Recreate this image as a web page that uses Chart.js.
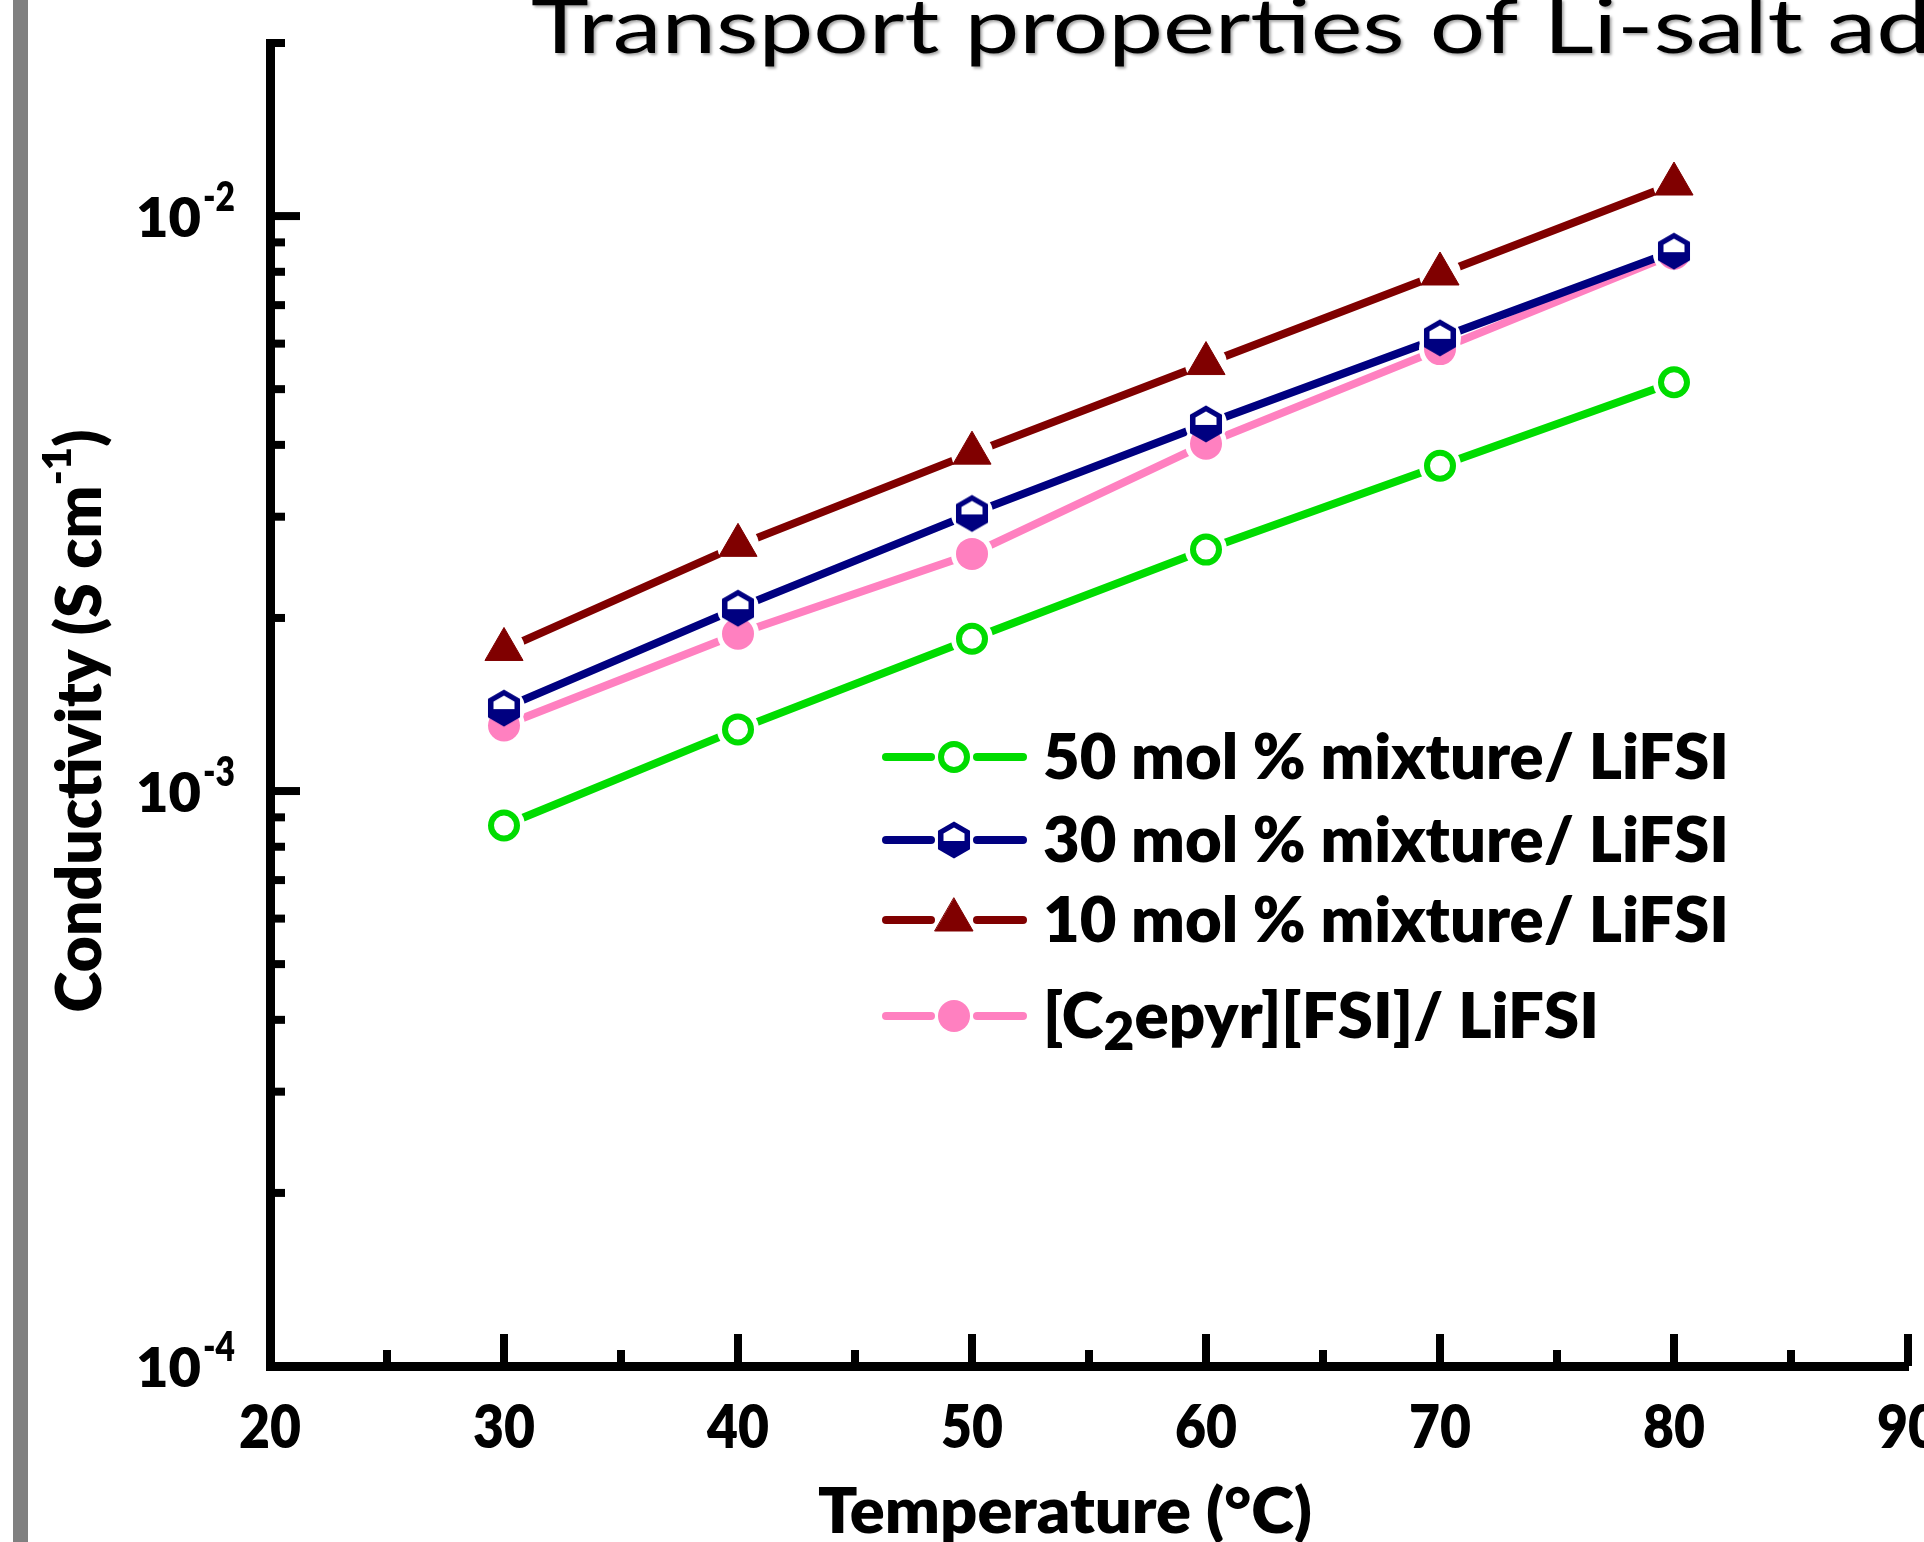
<!DOCTYPE html>
<html>
<head>
<meta charset="utf-8">
<script src="https://cdn.jsdelivr.net/npm/chart.js@4.4.1/dist/chart.umd.min.js"></script>
<style>
  html, body { margin: 0; padding: 0; background: #fff; overflow: hidden; }
  #wrap { position: relative; width: 1924px; height: 1542px; }
  #bar { position: absolute; left: 13px; top: 0; width: 15px; height: 1542px; background: #808080; }
  #chart { position: absolute; left: 0; top: 0; }
</style>
</head>
<body>
<div id="wrap">
  <div id="bar"></div>
  <canvas id="chart" width="1924" height="1542"></canvas>
</div>
<script>
// temperature (°C)
const temps = [30, 40, 50, 60, 70, 80];
// conductivity (S cm-1)
const mix50 = [8.71e-4, 1.28e-3, 1.84e-3, 2.63e-3, 3.68e-3, 5.14e-3];
const mix30 = [1.394e-3, 2.08e-3, 3.04e-3, 4.35e-3, 6.14e-3, 8.69e-3];
const mix10 = [1.763e-3, 2.675e-3, 3.87e-3, 5.54e-3, 7.93e-3, 1.137e-2];
const ionicLiquid = [1.30e-3, 1.877e-3, 2.585e-3, 4.02e-3, 5.87e-3, 8.6e-3];

const seriesNames = ['50 mol % mixture/ LiFSI', '30 mol % mixture/ LiFSI', '10 mol % mixture/ LiFSI', '[C2epyr][FSI]/ LiFSI'];
const xMajorTicks = [20, 30, 40, 50, 60, 70, 80, 90];
const xMinorTicks = [25, 35, 45, 55, 65, 75, 85];
const yDecades = [1e-4, 1e-3, 1e-2];
const yDecadeLabels = ['-4', '-3', '-2'];

const titleText = 'Transport properties of Li-salt ad';
const xTitle = 'Temperature (°C)';

const GREEN = '#00dc00', NAVY = '#000080', DARKRED = '#800000', PINK = '#ff80c0';
const BOLD = '800', FAMILY = 'Lato, "Open Sans", sans-serif';

// half filled hexagon marker
function makeHex() {
    const c = document.createElement('canvas');
    c.width = 40; c.height = 42;
    const g = c.getContext('2d');
    const cx = 20, cy = 21, R = 18.5;
    g.beginPath();
    for (let i = 0; i < 6; i++) {
        const a = -Math.PI / 2 + i * Math.PI / 3;
        g.lineTo(cx + R * Math.cos(a), cy + R * Math.sin(a));
    }
    g.closePath();
    g.fillStyle = NAVY;
    g.fill();
    const w = 10.5, side = -R + 6 + 0.577 * w;
    g.beginPath();
    g.moveTo(cx, cy - R + 6);
    g.lineTo(cx + w, cy + side);
    g.lineTo(cx + w, cy + 1);
    g.lineTo(cx - w, cy + 1);
    g.lineTo(cx - w, cy + side);
    g.closePath();
    g.fillStyle = '#fff';
    g.fill();
    return c;
}
const hexImg = makeHex();

function pts(arr) {
    return temps.map((t, i) => ({ x: t, y: arr[i] }));
}

const series = [
    { data: mix50, color: GREEN, marker: { pointStyle: 'circle', radius: 13, bg: '#fff', bw: 6 }, lineOrder: 34, markOrder: 4 },
    { data: mix30, color: NAVY, marker: { pointStyle: hexImg, radius: 18, bg: NAVY, bw: 0 }, lineOrder: 31, markOrder: 1 },
    { data: mix10, color: DARKRED, marker: { pointStyle: 'triangle', radius: 22, bg: DARKRED, bw: 1 }, lineOrder: 33, markOrder: 3 },
    { data: ionicLiquid, color: PINK, marker: { pointStyle: 'circle', radius: 16, bg: PINK, bw: 0 }, lineOrder: 32, markOrder: 2 }
];

const datasets = [];
series.forEach((s, i) => {
    // the line
    datasets.push({
        label: seriesNames[i], data: pts(s.data), borderColor: s.color, borderWidth: 8,
        borderCapStyle: 'round', pointRadius: 0, showLine: true, order: s.lineOrder
    });
    // white gap round the marker
    datasets.push({
        data: pts(s.data), showLine: false, pointRadius: 21, pointBackgroundColor: '#fff',
        pointBorderWidth: 0, order: 20 + i
    });
    // the marker
    datasets.push({
        data: pts(s.data), showLine: false, pointStyle: s.marker.pointStyle,
        pointRadius: s.marker.radius, pointBackgroundColor: s.marker.bg,
        pointBorderColor: s.color, pointBorderWidth: s.marker.bw, order: s.markOrder
    });
});

// text runs drawn side by side, squeezed or stretched to a target width
function drawRuns(ctx, runs, x, y, weight, target, align) {
    let total = 0;
    runs.forEach(r => {
        ctx.font = weight + ' ' + r.size + 'px ' + FAMILY;
        r.w = ctx.measureText(r.t).width;
        total += r.w;
    });
    const sx = target ? target / total : 1;
    let start = x;
    if (align === 'center') start = x - total * sx / 2;
    if (align === 'right') start = x - total * sx;
    ctx.save();
    ctx.translate(start, y);
    ctx.scale(sx, 1);
    ctx.textAlign = 'left';
    ctx.textBaseline = 'alphabetic';
    let cx = 0;
    runs.forEach(r => {
        ctx.font = weight + ' ' + r.size + 'px ' + FAMILY;
        ctx.fillText(r.t, cx, r.dy || 0);
        cx += r.w;
    });
    ctx.restore();
}

const decor = {
    id: 'decor',
    afterDraw(chart) {
        const ctx = chart.ctx;
        const xs = chart.scales.x, ys = chart.scales.y;
        const axX = chart.chartArea.left, axY = chart.chartArea.bottom;
        ctx.save();
        ctx.strokeStyle = '#000';
        ctx.fillStyle = '#000';
        ctx.lineWidth = 8;
        ctx.lineCap = 'butt';

        // inward ticks, bottom axis
        const tick = (x1, y1, x2, y2) => { ctx.beginPath(); ctx.moveTo(x1, y1); ctx.lineTo(x2, y2); ctx.stroke(); };
        xMajorTicks.forEach(v => { const p = xs.getPixelForValue(v); tick(p, axY, p, axY - 32); });
        xMinorTicks.forEach(v => { const p = xs.getPixelForValue(v); tick(p, axY, p, axY - 16); });

        // inward ticks, left axis
        yDecades.forEach(d => {
            if (d > ys.min) { const p = ys.getPixelForValue(d); tick(axX, p, axX + 30, p); }
            for (let k = 2; k <= 9; k++) {
                const v = d * k;
                if (v <= ys.max * 1.0001) { const p = ys.getPixelForValue(v); tick(axX, p, axX + 15, p); }
            }
        });

        // y tick labels 10^n
        yDecades.forEach((d, i) => {
            const p = ys.getPixelForValue(d);
            drawRuns(ctx, [{ t: '10', size: 55 }], 201, p + 21, BOLD, 65, 'right');
            drawRuns(ctx, [{ t: yDecadeLabels[i], size: 42 }], 203, p - 5, BOLD, 32, 'left');
        });

        // x tick labels
        xMajorTicks.forEach(v => {
            const p = xs.getPixelForValue(v);
            drawRuns(ctx, [{ t: String(v), size: 60 }], p, 1448, BOLD, 62, 'center');
        });

        // axis titles
        drawRuns(ctx, [{ t: xTitle, size: 62 }], 1065, 1533, BOLD, 494, 'center');
        ctx.save();
        ctx.translate(101, 721);
        ctx.rotate(-Math.PI / 2);
        drawRuns(ctx, [{ t: 'Conductivity (S cm', size: 62 }, { t: '-1', size: 40, dy: -30 }, { t: ')', size: 62 }], 0, 0, BOLD, 583, 'center');
        ctx.restore();

        // legend
        const rowY = [757, 840, 920, 1016];
        series.forEach((s, i) => {
            const y = rowY[i];
            ctx.strokeStyle = s.color;
            ctx.lineWidth = 8;
            ctx.lineCap = 'round';
            tick(886, y, 931, y);
            tick(977, y, 1023, y);
            ctx.fillStyle = s.marker.bg;
            ctx.lineWidth = s.marker.bw;
            Chart.helpers.drawPoint(ctx, { pointStyle: s.marker.pointStyle, radius: s.marker.radius, rotation: 0, borderWidth: s.marker.bw }, 954, y);
        });
        ctx.fillStyle = '#000';
        for (let i = 0; i < 3; i++) {
            drawRuns(ctx, [{ t: seriesNames[i], size: 62 }], 1043, rowY[i] + 22, BOLD, 686, 'left');
        }
        drawRuns(ctx, [{ t: '[C', size: 62 }, { t: '2', size: 52, dy: 12 }, { t: 'epyr][FSI]/ LiFSI', size: 62 }], 1043, rowY[3] + 22, BOLD, 556, 'left');

        // slide title, cut by the page edge
        ctx.shadowColor = 'rgba(0,0,0,0.35)';
        ctx.shadowOffsetX = 2;
        ctx.shadowOffsetY = 2;
        ctx.shadowBlur = 3;
        drawRuns(ctx, [{ t: titleText, size: 75 }], 531, 53, '400', 1400, 'left');
        ctx.restore();
    }
};

new Chart(document.getElementById('chart'), {
    type: 'line',
    data: { datasets: datasets },
    options: {
        responsive: false,
        animation: false,
        layout: { autoPadding: false, padding: { top: 43, right: 16, left: 0, bottom: 0 } },
        plugins: { legend: { display: false }, tooltip: { enabled: false } },
        scales: {
            x: {
                type: 'linear', min: 20, max: 90,
                ticks: { display: false, stepSize: 10 },
                grid: { display: true, drawOnChartArea: false, drawTicks: false },
                border: { display: true, color: '#000', width: 9 },
                afterFit: s => { s.height = 176; s.paddingLeft = 0; s.paddingRight = 0; }
            },
            y: {
                type: 'logarithmic', min: 1e-4, max: 0.02,
                ticks: { display: false },
                grid: { display: true, drawOnChartArea: false, drawTicks: false },
                border: { display: true, color: '#000', width: 9 },
                afterFit: s => { s.width = 270; s.paddingTop = 0; s.paddingBottom = 0; }
            }
        }
    },
    plugins: [decor]
});
</script>
</body>
</html>
